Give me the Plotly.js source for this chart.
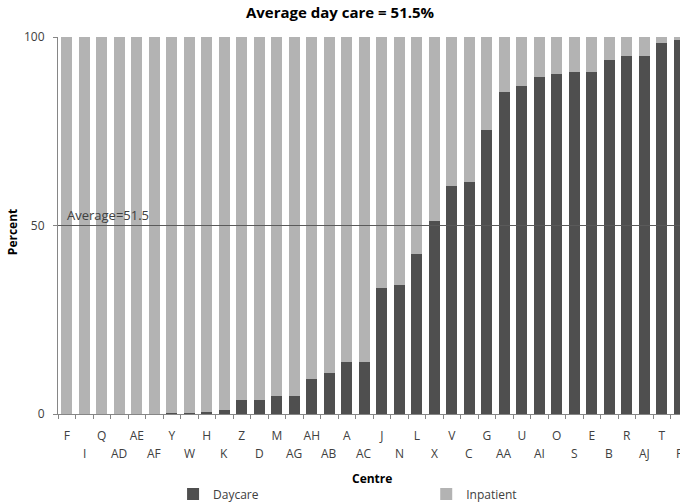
<!DOCTYPE html>
<html>
<head>
<meta charset="utf-8">
<script src="https://cdn.plot.ly/plotly-3.0.1.min.js"></script>
<style>html,body{margin:0;padding:0;background:#fff;}#chart{width:680px;height:504px;}</style>
</head>
<body>
<div id="chart"></div>
<script>
const centres = ['F','I','Q','AD','AE','AF','Y','W','H','K','Z','D','M','AG','AH','AB','A','AC','J','N','L','X','V','C','G','AA','U','AI','O','S','E','B','R','AJ','T','P'];
const daycare = [0,0,0,0,0,0,0.3,0.3,0.6,1.0,3.8,3.8,4.7,4.9,9.4,10.9,13.7,13.7,33.5,34.1,42.5,51.2,60.6,61.5,75.4,85.3,87.0,89.4,90.1,90.8,90.8,93.8,95.0,94.9,98.3,99.2];
const inpatient = [100,100,100,100,100,100,99.7,99.7,99.4,99.0,96.2,96.2,95.3,95.1,90.6,89.1,86.3,86.3,66.5,65.9,57.5,48.8,39.4,38.5,24.6,14.7,13.0,10.6,9.9,9.2,9.2,6.2,5.0,5.1,1.7,0.8];
const yTicks = [0, 50, 100];
const averageLine = 50;
const averageLabel = 'Average=51.5';
const chartTitle = 'Average day care = 51.5%';

const FONT = 'Open Sans, Liberation Sans, sans-serif';

const traces = [
  {type:'bar', name:'Daycare', x:centres, y:daycare, marker:{color:'#4f4f4f'}, legend:'legend'},
  {type:'bar', name:'Inpatient', x:centres, y:inpatient, marker:{color:'#b3b3b3'}, legend:'legend2'}
];

const annotations = [];
centres.forEach((c,i)=>{
  if (i % 2 === 1) {
    annotations.push({xref:'x', yref:'paper', x:i, y:-0.106, yanchor:'middle', xanchor:'center',
      text:c, showarrow:false, font:{family:FONT, size:12, color:'#404040'}});
  }
});
annotations.push({xref:'paper', yref:'y', x:0.011, y:averageLine, xanchor:'left', yanchor:'bottom',
  text:averageLabel, showarrow:false, font:{family:FONT, size:13, color:'#404040'}});
annotations.push({xref:'paper', yref:'paper', x:-0.072, y:0.483, xanchor:'center', yanchor:'middle',
  text:'<b>Percent</b>', textangle:-90, showarrow:false, font:{family:FONT, size:12, color:'#000'}});
annotations.push({xref:'paper', yref:'paper', x:0.505, y:-0.170, xanchor:'center', yanchor:'middle',
  text:'<b>Centre</b>', showarrow:false, font:{family:FONT, size:12, color:'#000'}});

const legendBase = {orientation:'h', yanchor:'middle', y:-0.212, xanchor:'left',
  font:{family:FONT, size:12, color:'#404040'}, bgcolor:'rgba(0,0,0,0)'};

const layout = {
  width:680, height:504,
  margin:{l:58, r:0, t:37, b:90, autoexpand:false},
  paper_bgcolor:'#fff', plot_bgcolor:'#fff',
  barmode:'stack', bargap:0.37,
  showlegend:true,
  title:{text:'<b>'+chartTitle+'</b>', font:{family:FONT, size:15, color:'#000'}, x:0.5, xanchor:'center', y:0.975, yanchor:'middle', yref:'container'},
  xaxis:{type:'category', range:[-0.5, 35.04], tickmode:'array', tickvals:centres,
    ticktext:centres.map((c,i)=> i%2===0 ? c : ''), tickangle:0, automargin:false,
    tickson:'boundaries', ticks:'outside', ticklen:4, tickcolor:'#868686',
    showline:true, linecolor:'#868686', linewidth:1, showgrid:false, zeroline:false,
    tickfont:{family:FONT, size:12, color:'#404040'}, ticklabelstandoff:11, fixedrange:true},
  yaxis:{range:[0,100], tickvals:yTicks, ticks:'outside', ticklen:4, tickcolor:'#868686', automargin:false,
    showline:true, linecolor:'#868686', linewidth:1, showgrid:false, zeroline:false,
    tickfont:{family:FONT, size:12, color:'#404040'}, ticklabelstandoff:6, fixedrange:true},
  shapes:[{type:'line', xref:'paper', yref:'y', x0:0, x1:1, y0:averageLine, y1:averageLine,
    line:{color:'#5a5a5a', width:1}}],
  annotations:annotations,
  legend:Object.assign({}, legendBase, {x:0.185}),
  legend2:Object.assign({}, legendBase, {x:0.592})
};

Plotly.newPlot('chart', traces, layout, {displayModeBar:false, staticPlot:true});
</script>
</body>
</html>
